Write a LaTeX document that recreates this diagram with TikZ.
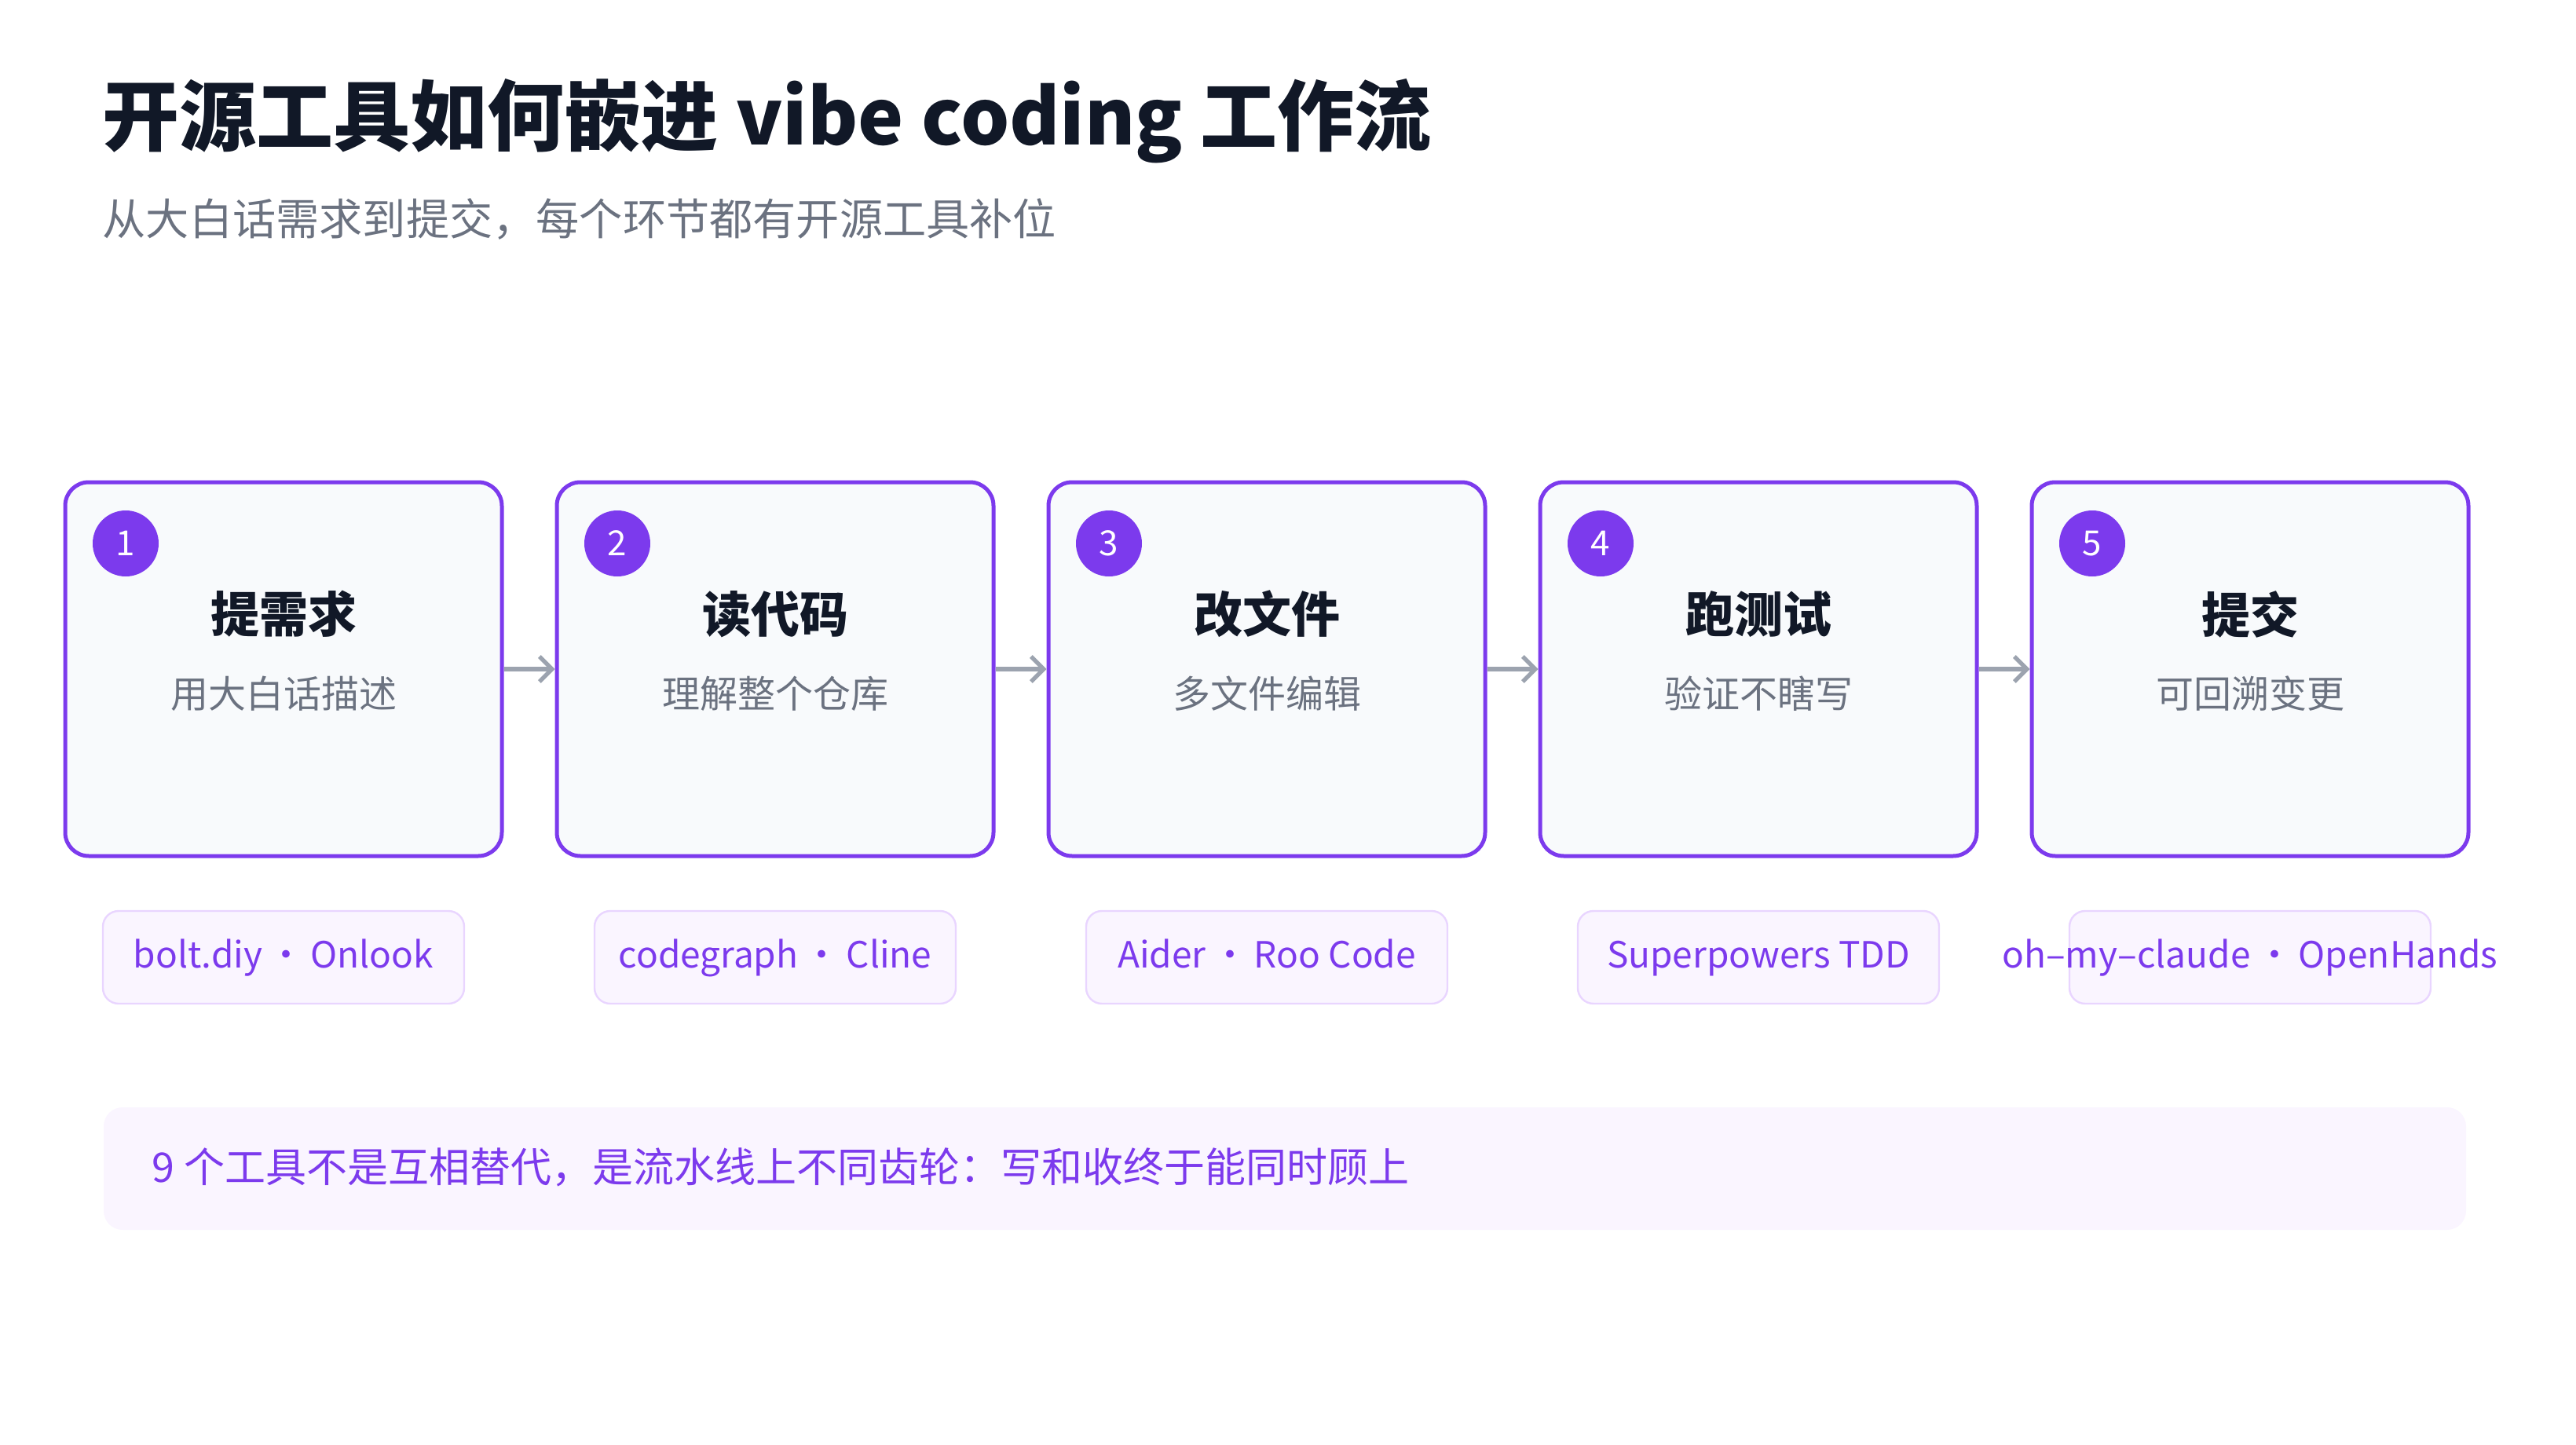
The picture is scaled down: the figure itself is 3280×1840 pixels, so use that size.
\documentclass[tikz,border=0pt]{standalone}
\usepackage{fontspec}
\setmainfont{Noto Sans CJK SC}
\usetikzlibrary{positioning}
\usetikzlibrary{arrows.meta}
\definecolor{purp}{HTML}{7C3AED}
\definecolor{ink}{HTML}{111827}
\definecolor{slate}{HTML}{6B7280}
\definecolor{boxbg}{HTML}{F8FAFC}
\definecolor{tagbg}{HTML}{FAF5FF}
\definecolor{tagline}{HTML}{E9D5FF}
\definecolor{arrowgray}{HTML}{9CA3AF}

\begin{document}
\begin{tikzpicture}[x=0.25pt,y=-0.25pt]
			\tikzset{stage/.style = {shape=rectangle, rounded corners=7.5pt, line width=1.25pt, draw=purp, fill=boxbg, minimum width=139pt, minimum height=119pt},
				badge/.style = {circle, fill=purp, text=white, minimum size=21pt, inner sep=0pt, font=\fontsize{11}{11}\selectfont},
				tool/.style = {shape=rectangle, rounded corners=5pt, line width=0.6pt, draw=tagline, fill=tagbg, minimum width=115pt, minimum height=29.5pt},
				flow/.style = {-{Straight Barb[length=4pt,width=8pt]}, line width=1.3pt, draw=arrowgray}}
			
			\useasboundingbox (0,0) rectangle (3280,1840);
			
			\node[anchor=base west, text=ink, font=\fontsize{24.5}{25}\bfseries\selectfont, inner sep=0pt] (TITLE) at (130,185) {开源工具如何嵌进 vibe coding 工作流};
			\node[anchor=base west, text=slate, font=\fontsize{13.8}{14}\selectfont, inner sep=0pt] (SUB) at (130,300) {从大白话需求到提交，每个环节都有开源工具补位};
			
			\foreach \i/\x/\name/\desc/\tools in {
				1/361/提需求/用大白话描述/{bolt.diy\,·\,Onlook},
				2/987/读代码/理解整个仓库/{codegraph\,·\,Cline},
				3/1613/改文件/多文件编辑/{Aider\,·\,Roo Code},
				4/2239/跑测试/验证不瞎写/{Superpowers TDD},
				5/2865/提交/可回溯变更/{oh--my--claude\,·\,OpenHands}} {
				\node[stage] (S\i) at (\x,852) {};
				\node[badge] (B\i) at (\x-201,692) {\i};
				\node[text=ink, font=\fontsize{15.5}{16}\bfseries\selectfont] (N\i) at (\x,782) {\name};
				\node[text=slate, font=\fontsize{12}{12}\selectfont] (D\i) at (\x,883) {\desc};
				\node[tool] (T\i) at (\x,1219) {};
				\node[anchor=base, text=purp, font=\fontsize{11.5}{12}\selectfont, inner sep=0pt] (L\i) at (\x,1232) {\tools};
			}
			\foreach \a/\b in {1/2,2/3,3/4,4/5}
				\draw[flow] (S\a.east) -- (S\b.west);
			
			\node[shape=rectangle, rounded corners=6pt, fill=tagbg, minimum width=752pt, minimum height=39pt] (BAR) at (1636,1488) {};
			\node[anchor=base west, text=purp, font=\fontsize{13}{13}\selectfont, inner sep=0pt] (NOTE) at (193,1505) {9 个工具不是互相替代，是流水线上不同齿轮：写和收终于能同时顾上};
			
			\end{tikzpicture}
\end{document}
